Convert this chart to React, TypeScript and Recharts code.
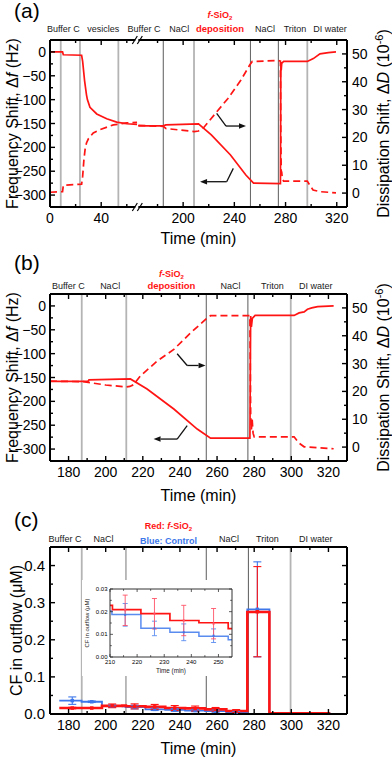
import React from 'react';
import { ComposedChart, Line, XAxis, YAxis, ReferenceLine, ErrorBar } from 'recharts';

const FONT = '"Liberation Sans", Arial, Helvetica, sans-serif';
const RED = '#ff1414';
const BLUE = '#3d77ea';
const RED_LIGHT = '#ff5468';
const BLUE_LIGHT = '#5a8cf0';
const GRAY_LIGHT = '#b4b4b4';
const GRAY_DARK = '#6a6a6a';

// ---------------- Panel (a): QCM with broken time axis ----------------
const aFreqTime = [0, 9.8, 10.4, 24.7, 25.5, 27, 28.5, 29.2, 31.2, 36.5, 44.3, 52.1, 59.9, 68, 68.6, 165, 184.5, 186.5, 212, 222, 237, 249, 255, 276, 276.3, 276.6, 277, 278.5, 297, 301.7, 306.9, 313.4, 319.4];
const aFreqValue = [0, 0, -6, -7, -20, -60, -90, -100, -116, -130, -140, -147, -150.5, -152, null, -155, -155, -153, -151, -174, -216, -258, -275, -276, -21, -39, -24, -20, -20, -14, -4, -1.5, 0];
const aDissTime = [0, 9.8, 10.4, 24.7, 25.5, 26.5, 27.5, 28.5, 30, 33.8, 39, 49.5, 60, 68, 68.6, 165, 184.5, 186.5, 208.7, 212, 216, 225, 235, 245, 252, 254, 274.5, 276, 276.3, 276.6, 277, 277.5, 278.5, 297, 299, 301.5, 307, 319.4];
const aDissValue = [0.3, 0.5, 2.8, 3.2, 6, 12, 16, 18, 19.5, 21.6, 22.8, 24.5, 25.2, 25.4, null, 24.3, 24, 23.2, 22.1, 22.3, 23.5, 28.5, 34, 40.5, 46, 47.3, 47.6, 47.4, 20, 8, 7.5, 5, 4.3, 4.3, 2.8, 1.1, 0.5, 0.1];
const aEventTime = [8.4, 23.4, 53.4, 184.5, 208.5, 252.6, 274.4, 297];
const aEventDark = [false, false, false, true, false, true, true, false];
const aPhaseTime = [10.4, 41.6, 169.4, 197, 228.8, 264, 287.4, 314.8];
const aPhaseName = ['Buffer C', 'vesicles', 'Buffer C', 'NaCl', 'f-SiO2 deposition', 'NaCl', 'Triton', 'DI water'];
const aArrowRightTime = [226.2, 233.5, 249.1];
const aArrowRightFreq = [-128.7, -155.3, -155.3];
const aArrowLeftTime = [239.2, 234, 213.2];
const aArrowLeftFreq = [-244, -272, -272];
const aTickTime = [0, 20, 40, 60, 180, 200, 220, 240, 260, 280, 300, 320];
const aTickMajorTime = [0, 40, 200, 240, 280, 320];
const A_LEFT_END = 69; // last minute shown before the axis break
const A_SHIFT = 96; // minutes removed by the axis break
const A_DOMAIN_U = 232;

// ---------------- Panel (b): QCM, continuous axis ----------------
const bFreqTime = [170, 190.5, 191, 213.3, 222.3, 236.7, 249.3, 256.5, 277.7, 278.1, 278.5, 279, 280.5, 301.5, 304.2, 306.9, 308.7, 311, 314.2, 322.8];
const bFreqValue = [-158, -158, -155, -153, -174, -216, -258, -277, -277, -21, -44, -26, -20, -20, -14.6, -12.5, -7, -4.1, -1.4, 0];
const bDissTime = [170, 188, 200, 211, 213, 215, 218.6, 227.7, 236.7, 245.7, 254.7, 256.5, 277.7, 278.1, 278.5, 278.9, 279.4, 280, 301.5, 304, 306.9, 322.8];
const bDissValue = [23.7, 23.5, 22.3, 21.6, 21.8, 22.4, 25.5, 30.9, 35.1, 41, 46.4, 47.2, 47.2, 12, 6.3, 10, 5, 3.7, 3.7, 1.5, 0.1, -0.6];
const bEventTime = [187.1, 211.1, 254.2, 276.6, 299.7];
const bEventDark = [false, false, true, true, false];
const bPhaseTime = [179.9, 202.4, 235.4, 267.3, 289.8, 313.2];
const bPhaseName = ['Buffer C', 'NaCl', 'f-SiO2 deposition', 'NaCl', 'Triton', 'DI water'];
const bArrowRightTime = [238.5, 243.9, 253.8];
const bArrowRightFreq = [-100.2, -124.8, -124.8];
const bArrowLeftTime = [243.9, 238.5, 225.8];
const bArrowLeftFreq = [-251, -279, -279];

// ---------------- Panel (c): CF in outflow ----------------
const cRedTime = [175, 198, 209, 210.9, 221.4, 232.1, 242.8, 253.6, 265, 276.3, 288.2, 321];
const cRedValue = [0.016, 0.0218, 0.0228, 0.0209, 0.0191, 0.0161, 0.0151, 0.0125, 0.008, 0.275, 0.002, 0.002];
const cBlueTime = [175, 187, 198, 209, 210.7, 221.4, 232.1, 242.8, 253.6, 265, 276.3, 288.2, 321];
const cBlueValue = [0.036, 0.033, 0.021, 0.0203, 0.0187, 0.0127, 0.0109, 0.0091, 0.0076, 0.005, 0.282, 0.002, 0.002];
const cErrTime = [182, 192.5, 203.5, 215.6, 226.4, 237.2, 248.2, 259.2, 270.3, 281.7];
const cRedErrValue = [0.016, 0.016, 0.022, 0.0206, 0.0191, 0.0161, 0.0147, 0.0125, 0.008, 0.2757];
const cRedErrSize = [0.002, 0.001, 0.005, 0.0067, 0.0067, 0.0067, 0.0067, 0.005, 0.004, 0.1215];
const cBlueErrValue = [0.036, 0.033, 0.021, 0.0186, 0.0126, 0.0109, 0.0094, 0.0076, 0.005, 0.282];
const cBlueErrSize = [0.01, 0.002, 0.003, 0.005, 0.0032, 0.0037, 0.003, 0.003, 0.002, 0.128];
const cEventTime = [187.1, 210.9, 254.2, 276.9, 299.6];
const cEventDark = [false, false, true, true, false];
const cPhaseTime = [178.1, 198.8, 233.8, 266.4, 287.1, 313.2];
const cPhaseName = ['Buffer C', 'NaCl', 'Red: f-SiO2 / Blue: Control', 'NaCl', 'Triton', 'DI water'];

// ---------------- ticks ----------------
const timeTicks = [180, 190, 200, 210, 220, 230, 240, 250, 260, 270, 280, 290, 300, 310, 320];
const timeMajors = [180, 200, 220, 240, 260, 280, 300, 320];
const freqTicks = [-300, -275, -250, -225, -200, -175, -150, -125, -100, -75, -50, -25, 0];
const freqMajors = [-300, -250, -200, -150, -100, -50, 0];
const dissTicks = [0, 5, 10, 15, 20, 25, 30, 35, 40, 45, 50];
const dissMajors = [0, 10, 20, 30, 40, 50];
const cfTicks = [0, 0.05, 0.1, 0.15, 0.2, 0.25, 0.3, 0.35, 0.4];
const cfMajors = [0, 0.1, 0.2, 0.3, 0.4];
const insetTimeTicks = [210, 215, 220, 225, 230, 235, 240, 245, 250];
const insetTimeMajors = [210, 220, 230, 240, 250];
const insetCfTicks = [0, 0.005, 0.01, 0.015, 0.02, 0.025, 0.03];
const insetCfMajors = [0, 0.01, 0.02, 0.03];

const toU = (t: number) => (t <= A_LEFT_END ? t : t - A_SHIFT);
const fromU = (u: number) => (u <= A_LEFT_END ? u : u + A_SHIFT);

const series = (ts: number[], vs: (number | null)[], key = 't', map = (t: number) => t) =>
  ts.map((t, i) => ({ [key]: map(t), v: vs[i] }));

const aFreqData = series(aFreqTime, aFreqValue, 'u', toU);
const aDissData = series(aDissTime, aDissValue, 'u', toU);
const bFreqData = series(bFreqTime, bFreqValue);
const bDissData = series(bDissTime, bDissValue);
const cRedData = series(cRedTime, cRedValue);
const cBlueData = series(cBlueTime, cBlueValue);
const cRedErrData = cErrTime.map((t, i) => ({ t, v: cRedErrValue[i], e: cRedErrSize[i] }));
const cBlueErrData = cErrTime.map((t, i) => ({ t, v: cBlueErrValue[i], e: cBlueErrSize[i] }));
const insetRedErr = cRedErrData.filter((d) => d.t > 210 && d.t < 255);
const insetBlueErr = cBlueErrData.filter((d) => d.t > 210 && d.t < 255);

type Side = 'top' | 'bottom' | 'left' | 'right';
function makeTick(side: Side, majors: number[], opts: any = {}) {
  const { label, fontSize = 14, gap = 16, major = 5, minor = 3, color = '#000', sw = 1.4, breakAt } = opts;
  return function Tick(props: any) {
    const x = Number(props.x);
    const y = Number(props.y);
    const v = props.payload ? props.payload.value : NaN;
    if (breakAt !== undefined && Math.abs(v - breakAt) < 1e-6) {
      return (
        <g>
          <rect x={x - 3} y={y - 2} width={3} height={4} fill="#fff" />
          <line x1={x - 6} y1={y + 4} x2={x - 1} y2={y - 4} stroke="#000" strokeWidth={1.2} />
          <line x1={x - 1} y1={y + 4} x2={x + 4} y2={y - 4} stroke="#000" strokeWidth={1.2} />
        </g>
      );
    }
    const isMajor = majors.some((m: number) => Math.abs(m - v) < 1e-7);
    const len = isMajor ? major : minor;
    let x2 = x;
    let y2 = y;
    let txt: any = null;
    const common = { fontSize, fontFamily: FONT, fill: '#000' };
    if (side === 'bottom') {
      y2 = y - len;
      if (isMajor && label) txt = <text x={x} y={y + gap} textAnchor="middle" {...common}>{label(v)}</text>;
    } else if (side === 'top') {
      y2 = y + len;
    } else if (side === 'left') {
      x2 = x + len;
      if (isMajor && label) txt = <text x={x - gap} y={y + fontSize * 0.36} textAnchor="end" {...common}>{label(v)}</text>;
    } else {
      x2 = x - len;
      if (isMajor && label) txt = <text x={x + gap} y={y + fontSize * 0.36} textAnchor="start" {...common}>{label(v)}</text>;
    }
    return (
      <g>
        <line x1={x} y1={y} x2={x2} y2={y2} stroke={color} strokeWidth={sw} />
        {txt}
      </g>
    );
  };
}

const AXIS = { stroke: '#000', strokeWidth: 2 };
const AXIS_INSET = { stroke: '#333', strokeWidth: 1 };

const arrowShape = (head: boolean) => (p: any) => {
  const { x1, y1, x2, y2 } = p;
  if ([x1, y1, x2, y2].some((n) => typeof n !== 'number' || isNaN(n))) return <g />;
  const dx = x2 - x1;
  const dy = y2 - y1;
  const L = Math.hypot(dx, dy) || 1;
  const ux = dx / L;
  const uy = dy / L;
  const hl = 7;
  const hw = 2.8;
  const bx = x2 - ux * hl;
  const by = y2 - uy * hl;
  const pts = `${x2},${y2} ${bx - uy * hw},${by + ux * hw} ${bx + uy * hw},${by - ux * hw}`;
  return (
    <g>
      <line x1={x1} y1={y1} x2={head ? bx : x2} y2={head ? by : y2} stroke="#111" strokeWidth={1.3} />
      {head && <polygon points={pts} fill="#111" />}
    </g>
  );
};

const phaseLabel = (name: string, lift: number, upper: number) => (p: any) => {
  const vb = p.viewBox || {};
  const x = vb.x;
  const y = vb.y;
  if (name.startsWith('f-SiO2')) {
    return (
      <g fontFamily={FONT} fontWeight="bold" fill={RED}>
        <text x={x} y={y - upper} textAnchor="middle" fontSize={9}>
          <tspan fontStyle="italic">f</tspan>
          <tspan>-SiO</tspan>
          <tspan fontSize={6} dy={2}>2</tspan>
        </text>
        <text x={x} y={y - lift} textAnchor="middle" fontSize={9.5}>deposition</text>
      </g>
    );
  }
  if (name.startsWith('Red:')) {
    return (
      <g fontFamily={FONT} fontWeight="bold">
        <text x={x} y={y - upper} textAnchor="middle" fontSize={9} fill={RED}>
          <tspan>{'Red: '}</tspan>
          <tspan fontStyle="italic">f</tspan>
          <tspan>-SiO</tspan>
          <tspan fontSize={6} dy={2}>2</tspan>
        </text>
        <text x={x} y={y - lift + 2} textAnchor="middle" fontSize={9} fill={BLUE}>Blue: Control</text>
      </g>
    );
  }
  return (
    <text x={x} y={y - lift} textAnchor="middle" fontSize={9} fontFamily={FONT} fill="#1a1a1a">{name}</text>
  );
};

const timeTitle = (below: number) => (p: any) => {
  const vb = p.viewBox || {};
  return (
    <text x={vb.x + vb.width / 2} y={vb.y + below} textAnchor="middle" fontSize={16} fontFamily={FONT} fill="#000">Time (min)</text>
  );
};

const freqTitle = (p: any) => {
  const vb = p.viewBox || {};
  const cx = 17.5;
  const cy = vb.y + vb.height / 2;
  return (
    <text x={cx} y={cy} transform={`rotate(-90 ${cx} ${cy})`} textAnchor="middle" fontSize={16} fontFamily={FONT} fill="#000">
      <tspan>{'Frequency Shift, Δ'}</tspan>
      <tspan fontStyle="italic">f</tspan>
      <tspan>{' (Hz)'}</tspan>
    </text>
  );
};

const dissTitle = (p: any) => {
  const vb = p.viewBox || {};
  const cx = vb.x + vb.width - 3;
  const cy = vb.y + vb.height / 2;
  return (
    <text x={cx} y={cy} transform={`rotate(-90 ${cx} ${cy})`} textAnchor="middle" fontSize={16} fontFamily={FONT} fill="#000">
      <tspan>{'Dissipation Shift, Δ'}</tspan>
      <tspan fontStyle="italic">D</tspan>
      <tspan>{' (10'}</tspan>
      <tspan fontSize={11} dy={-6}>-6</tspan>
      <tspan dy={6}>)</tspan>
    </text>
  );
};

const cfTitle = (p: any) => {
  const vb = p.viewBox || {};
  const cx = 22;
  const cy = vb.y + vb.height / 2;
  return (
    <text x={cx} y={cy} transform={`rotate(-90 ${cx} ${cy})`} textAnchor="middle" fontSize={16} fontFamily={FONT} fill="#000">CF in outflow (μM)</text>
  );
};

const insetXTitle = (p: any) => {
  const vb = p.viewBox || {};
  return <text x={vb.x + vb.width / 2} y={vb.y + 16} textAnchor="middle" fontSize={6.3} fontFamily={FONT} fill="#222">Time (min)</text>;
};
const insetYTitle = (p: any) => {
  const vb = p.viewBox || {};
  const cx = vb.x + 7;
  const cy = vb.y + vb.height / 2;
  return (
    <text x={cx} y={cy} transform={`rotate(-90 ${cx} ${cy})`} textAnchor="middle" fontSize={6} fontFamily={FONT} fill="#222">CF in outflow (μM)</text>
  );
};

const square = (color: string, s: number) => (p: any) => {
  if (typeof p.cx !== 'number' || typeof p.cy !== 'number') return <g key={p.key} />;
  return <rect key={p.key} x={p.cx - s / 2} y={p.cy - s / 2} width={s} height={s} fill={color} />;
};

const fmtInt = (v: number) => String(Math.round(v));
const fmtSigned = (v: number) => {
  const r = Math.round(v);
  return r < 0 ? '\u2212' + String(-r) : String(r);
};

function QcmChart(props: any) {
  const { freqData, dissData, xKey, domain, ticks, majors, xLabel, events, dark, phases, names, arrowR, arrowL, lift, upper, breakAt } = props;
  const bottomTick = makeTick('bottom', majors, { label: xLabel, breakAt });
  const topTick = makeTick('top', majors, { breakAt });
  return (
    <ComposedChart width={392} height={250} margin={{ top: 0, right: 0, bottom: 0, left: 0 }} style={{ fontFamily: FONT }}>
      <XAxis xAxisId="b" type="number" dataKey={xKey} domain={domain} allowDataOverflow ticks={ticks} interval={0} tickSize={0} tickMargin={0} tickLine={false} axisLine={AXIS} tick={bottomTick} height={43} label={timeTitle(props.titleBelow)} />
      <XAxis xAxisId="t" orientation="top" type="number" dataKey={xKey} domain={domain} allowDataOverflow ticks={ticks} interval={0} tickSize={0} tickMargin={0} tickLine={false} axisLine={AXIS} tick={topTick} height={40} />
      <YAxis yAxisId="L" type="number" domain={[-325, 25]} allowDataOverflow ticks={freqTicks} interval={0} tickSize={0} tickMargin={0} tickLine={false} axisLine={AXIS} tick={makeTick('left', freqMajors, { label: fmtSigned, gap: 4 })} width={50} label={freqTitle} />
      <YAxis yAxisId="R" orientation="right" type="number" domain={[-5, 55]} allowDataOverflow ticks={dissTicks} interval={0} tickSize={0} tickMargin={0} tickLine={false} axisLine={AXIS} tick={makeTick('right', dissMajors, { label: fmtInt, gap: 5 })} width={45} label={dissTitle} />
      {events.map((x: number, i: number) => (
        <ReferenceLine key={'e' + i} xAxisId="b" yAxisId="L" x={x} stroke={dark[i] ? GRAY_DARK : GRAY_LIGHT} strokeWidth={dark[i] ? 1.1 : 1.8} />
      ))}
      {phases.map((x: number, i: number) => (
        <ReferenceLine key={'p' + i} xAxisId="b" yAxisId="L" x={x} stroke="none" label={phaseLabel(names[i], lift, upper)} />
      ))}
      <Line xAxisId="b" yAxisId="R" data={dissData} dataKey="v" type="linear" stroke={RED} strokeWidth={1.7} strokeDasharray="7 4" dot={false} activeDot={false} isAnimationActive={false} />
      <Line xAxisId="b" yAxisId="L" data={freqData} dataKey="v" type="linear" stroke={RED} strokeWidth={1.7} dot={false} activeDot={false} isAnimationActive={false} />
      <ReferenceLine xAxisId="b" yAxisId="L" segment={[{ x: arrowR[0][0], y: arrowR[1][0] }, { x: arrowR[0][1], y: arrowR[1][1] }]} shape={arrowShape(false)} />
      <ReferenceLine xAxisId="b" yAxisId="L" segment={[{ x: arrowR[0][1], y: arrowR[1][1] }, { x: arrowR[0][2], y: arrowR[1][2] }]} shape={arrowShape(true)} />
      <ReferenceLine xAxisId="b" yAxisId="L" segment={[{ x: arrowL[0][0], y: arrowL[1][0] }, { x: arrowL[0][1], y: arrowL[1][1] }]} shape={arrowShape(false)} />
      <ReferenceLine xAxisId="b" yAxisId="L" segment={[{ x: arrowL[0][1], y: arrowL[1][1] }, { x: arrowL[0][2], y: arrowL[1][2] }]} shape={arrowShape(true)} />
    </ComposedChart>
  );
}

function CfChart() {
  return (
    <ComposedChart width={392} height={251} margin={{ top: 0, right: 0, bottom: 0, left: 0 }} style={{ fontFamily: FONT }}>
      <XAxis xAxisId="b" type="number" dataKey="t" domain={[170, 330]} allowDataOverflow ticks={timeTicks} interval={0} tickSize={0} tickMargin={0} tickLine={false} axisLine={AXIS} tick={makeTick('bottom', timeMajors, { label: fmtInt })} height={44} label={timeTitle(39.5)} />
      <XAxis xAxisId="t" orientation="top" type="number" dataKey="t" domain={[170, 330]} allowDataOverflow ticks={timeTicks} interval={0} tickSize={0} tickMargin={0} tickLine={false} axisLine={AXIS} tick={makeTick('top', timeMajors)} height={40} />
      <YAxis yAxisId="L" type="number" domain={[0, 0.45]} allowDataOverflow ticks={cfTicks} interval={0} tickSize={0} tickMargin={0} tickLine={false} axisLine={AXIS} tick={makeTick('left', cfMajors, { label: (v: number) => v.toFixed(1), gap: 5, fontSize: 15 })} width={50} label={cfTitle} />
      <YAxis yAxisId="R" orientation="right" type="number" domain={[0, 0.45]} allowDataOverflow ticks={cfTicks} interval={0} tickSize={0} tickMargin={0} tickLine={false} axisLine={AXIS} tick={makeTick('right', cfMajors)} width={45} />
      {cEventTime.map((x, i) => (
        <ReferenceLine key={'e' + i} xAxisId="b" yAxisId="L" x={x} stroke={cEventDark[i] ? GRAY_DARK : GRAY_LIGHT} strokeWidth={cEventDark[i] ? 1.1 : 1.8} />
      ))}
      {cPhaseTime.map((x, i) => (
        <ReferenceLine key={'p' + i} xAxisId="b" yAxisId="L" x={x} stroke="none" label={phaseLabel(cPhaseName[i], 5.5, 17.7)} />
      ))}
      <Line xAxisId="b" yAxisId="L" data={cBlueData} dataKey="v" type="stepAfter" stroke={BLUE} strokeWidth={1.8} dot={false} activeDot={false} isAnimationActive={false} />
      <Line xAxisId="b" yAxisId="L" data={cRedData} dataKey="v" type="stepAfter" stroke={RED} strokeWidth={2.6} dot={false} activeDot={false} isAnimationActive={false} />
      <Line xAxisId="b" yAxisId="L" data={cBlueErrData} dataKey="v" stroke="none" dot={square(BLUE, 3.5)} activeDot={false} isAnimationActive={false}>
        <ErrorBar dataKey="e" direction="y" width={4} stroke={BLUE} strokeWidth={1.1} />
      </Line>
      <Line xAxisId="b" yAxisId="L" data={cRedErrData} dataKey="v" stroke="none" dot={square(RED, 3.5)} activeDot={false} isAnimationActive={false}>
        <ErrorBar dataKey="e" direction="y" width={4} stroke={RED} strokeWidth={1.1} />
      </Line>
    </ComposedChart>
  );
}

function InsetChart() {
  const insetTick = (side: Side, majors: number[], label?: (v: number) => string) =>
    makeTick(side, majors, { label, fontSize: 6, gap: side === 'bottom' ? 7 : 2.5, major: 3, minor: 1.8, color: '#333', sw: 0.8 });
  return (
    <ComposedChart width={153} height={96} margin={{ top: 0, right: 0, bottom: 0, left: 0 }} style={{ fontFamily: FONT }}>
      <XAxis xAxisId="b" type="number" dataKey="t" domain={[210, 255]} allowDataOverflow ticks={insetTimeTicks} interval={0} tickSize={0} tickMargin={0} tickLine={false} axisLine={AXIS_INSET} tick={insetTick('bottom', insetTimeMajors, fmtInt)} height={19} label={insetXTitle} />
      <XAxis xAxisId="t" orientation="top" type="number" dataKey="t" domain={[210, 255]} allowDataOverflow ticks={insetTimeTicks} interval={0} tickSize={0} tickMargin={0} tickLine={false} axisLine={AXIS_INSET} tick={insetTick('top', insetTimeMajors)} height={9} />
      <YAxis yAxisId="L" type="number" domain={[0, 0.03]} allowDataOverflow ticks={insetCfTicks} interval={0} tickSize={0} tickMargin={0} tickLine={false} axisLine={AXIS_INSET} tick={insetTick('left', insetCfMajors, (v: number) => v.toFixed(2))} width={28} label={insetYTitle} />
      <YAxis yAxisId="R" orientation="right" type="number" domain={[0, 0.03]} allowDataOverflow ticks={insetCfTicks} interval={0} tickSize={0} tickMargin={0} tickLine={false} axisLine={AXIS_INSET} tick={insetTick('right', insetCfMajors)} width={3} />
      <Line xAxisId="b" yAxisId="L" data={cBlueData} dataKey="v" type="stepAfter" stroke={BLUE_LIGHT} strokeWidth={1.5} dot={false} activeDot={false} isAnimationActive={false} />
      <Line xAxisId="b" yAxisId="L" data={cRedData} dataKey="v" type="stepAfter" stroke={RED} strokeWidth={1.7} dot={false} activeDot={false} isAnimationActive={false} />
      <Line xAxisId="b" yAxisId="L" data={insetBlueErr} dataKey="v" stroke="none" dot={square(BLUE, 2)} activeDot={false} isAnimationActive={false}>
        <ErrorBar dataKey="e" direction="y" width={2.5} stroke={BLUE_LIGHT} strokeWidth={0.9} />
      </Line>
      <Line xAxisId="b" yAxisId="L" data={insetRedErr} dataKey="v" stroke="none" dot={square(RED_LIGHT, 2)} activeDot={false} isAnimationActive={false}>
        <ErrorBar dataKey="e" direction="y" width={2.5} stroke={RED_LIGHT} strokeWidth={0.9} />
      </Line>
    </ComposedChart>
  );
}

const letterStyle = (top: number): React.CSSProperties => ({
  position: 'absolute', left: 14, top, fontSize: 21, lineHeight: '22px', fontFamily: FONT, color: '#000',
});

export default function App() {
  const aTicksU = [...aTickTime.map(toU), A_LEFT_END].sort((p, q) => p - q);
  const aMajorsU = aTickMajorTime.map(toU);
  return (
    <div style={{ position: 'absolute', left: 0, top: 0, width: 392, height: 758, background: '#fff', overflow: 'hidden', fontFamily: FONT }}>
      <div style={{ position: 'absolute', left: 0, top: 0 }}>
        <QcmChart
          freqData={aFreqData} dissData={aDissData} xKey="u" domain={[0, A_DOMAIN_U]} ticks={aTicksU} majors={aMajorsU}
          xLabel={(u: number) => fmtInt(fromU(u))} breakAt={A_LEFT_END}
          events={aEventTime.map(toU)} dark={aEventDark} phases={aPhaseTime.map(toU)} names={aPhaseName}
          arrowR={[aArrowRightTime.map(toU), aArrowRightFreq]} arrowL={[aArrowLeftTime.map(toU), aArrowLeftFreq]}
          lift={8.5} upper={22} titleBelow={37}
        />
      </div>
      <div style={{ position: 'absolute', left: 0, top: 254 }}>
        <QcmChart
          freqData={bFreqData} dissData={bDissData} xKey="t" domain={[170, 330]} ticks={timeTicks} majors={timeMajors}
          xLabel={fmtInt} events={bEventTime} dark={bEventDark} phases={bPhaseTime} names={bPhaseName}
          arrowR={[bArrowRightTime, bArrowRightFreq]} arrowL={[bArrowLeftTime, bArrowLeftFreq]}
          lift={5} upper={17.5} titleBelow={39.5}
        />
      </div>
      <div style={{ position: 'absolute', left: 0, top: 507 }}>
        <CfChart />
      </div>
      <div style={{ position: 'absolute', left: 82, top: 580, width: 153, height: 96, background: '#fff' }}>
        <InsetChart />
      </div>
      <div style={letterStyle(0)}>(a)</div>
      <div style={letterStyle(252)}>(b)</div>
      <div style={letterStyle(509)}>(c)</div>
    </div>
  );
}
